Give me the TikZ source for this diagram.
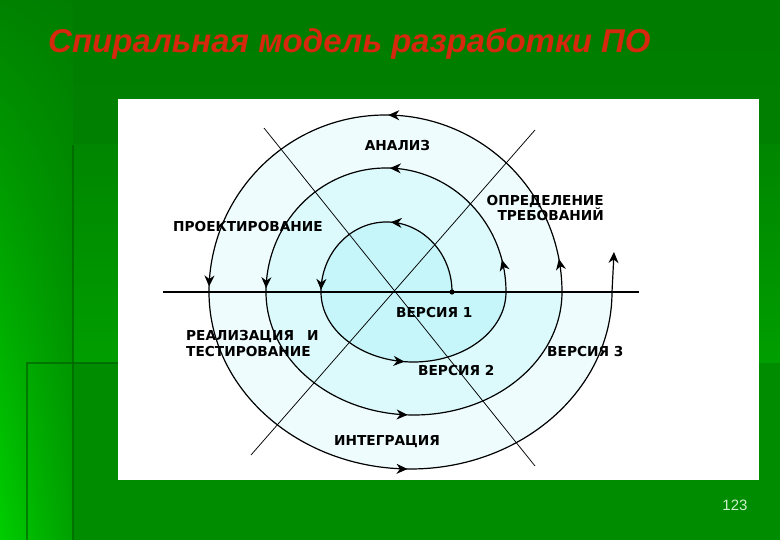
\documentclass[tikz,border=0pt]{standalone}
\usepackage{fontspec}
\setmainfont{DejaVu Sans}
\newfontfamily\lblfont{DejaVu Sans}
\newfontfamily\titlefont{Liberation Sans}
\usetikzlibrary{arrows.meta,decorations.markings,shadings}
\definecolor{gtop}{RGB}{0,124,0}
\definecolor{gbot}{RGB}{0,140,0}
\definecolor{gstripUL}{RGB}{0,130,0}
\definecolor{gstripUR}{RGB}{0,126,0}
\definecolor{gstripLL}{RGB}{0,205,0}
\definecolor{gstripLR}{RGB}{0,160,0}
\definecolor{gbandtop}{RGB}{0,134,0}
\definecolor{gbandbot}{RGB}{0,158,0}
\definecolor{glow}{RGB}{0,140,0}
\definecolor{gedge}{RGB}{0,95,0}
\definecolor{titlered}{RGB}{214,40,12}
\definecolor{pagenum}{RGB}{205,240,205}
\definecolor{fillA}{RGB}{198,245,250}
\definecolor{fillB}{RGB}{220,249,251}
\definecolor{fillC}{RGB}{239,252,253}
\tikzset{
  lbl/.style={font=\lblfont\bfseries\fontsize{13.7}{16}\selectfont, inner sep=0pt, text=black},
  spiralline/.style={line width=1.2pt, black},
  crossline/.style={line width=0.75pt, black},
  axisline/.style={line width=2.4pt, black},
  edgeline/.style={gedge, line width=1.6pt, opacity=0.65},
  arrowmarks/.style={postaction={decorate}, decoration={markings, #1}},
}
\def\tipspec{Stealth[length=11pt,width=10pt,inset=3.5pt]}
\begin{document}
\begin{tikzpicture}[x=1pt,y=-1pt]
\useasboundingbox (0,0) rectangle (780,540);
% background
\shade[top color=gtop, bottom color=gbot] (0,0) rectangle (780,540);
\shade[upper left=gstripUL, upper right=gstripUR, lower left=gstripLL, lower right=gstripLR] (0,0) rectangle (73,540);
\shade[top color=gbandtop, bottom color=gbandbot] (73,145) rectangle (780,363);
\fill[glow] (73,363) rectangle (780,540);
\draw[edgeline] (73,145) -- (73,540);
\draw[edgeline] (27,540) -- (27,363) -- (118,363);
% white panel
\fill[white] (118,99) rectangle (759,480);
% title and page number
\node[font=\titlefont\bfseries\itshape\fontsize{33}{38}\selectfont, text=titlered, anchor=base west, inner sep=0pt] (title) at (48,53) {Спиральная модель разработки ПО};
\node[font=\titlefont\fontsize{15}{18}\selectfont, text=pagenum, anchor=base, inner sep=0pt] (page) at (735,510) {123};
% region fills
\fill[fillC] (562,292) arc[start angle=0,end angle=180,x radius=176.5pt,y radius=177pt]
  arc[start angle=180,end angle=360,x radius=201.5pt,y radius=177pt] -- cycle;
\fill[fillB] (506,292) arc[start angle=0,end angle=180,x radius=120pt,y radius=124pt]
  arc[start angle=180,end angle=360,x radius=148pt,y radius=123pt] -- cycle;
\fill[fillA] (452,292) arc[start angle=0,end angle=180,x radius=65.5pt,y radius=70pt]
  arc[start angle=180,end angle=360,x radius=92.5pt,y radius=70pt] -- cycle;
% key points
\coordinate (s0) at (452,292);
\coordinate (s1) at (321,292);
\coordinate (s2) at (506,292);
\coordinate (s3) at (266,292);
\coordinate (s4) at (562,292);
\coordinate (s5) at (209,292);
\coordinate (s6) at (612,292);
\coordinate (s7) at (614,252);
% spiral
\draw[spiralline, arrowmarks={mark=at position 0.48 with {\arrow{\tipspec}}, mark=at position 0.99 with {\arrow{\tipspec}}}]
  (s0) arc[start angle=0,end angle=180,x radius=65.5pt,y radius=70pt];
\draw[spiralline, arrowmarks={mark=at position 0.465 with {\arrow{\tipspec}}}]
  (s1) arc[start angle=180,end angle=360,x radius=92.5pt,y radius=70pt];
\draw[spiralline, arrowmarks={mark=at position 0.085 with {\arrow{\tipspec}}, mark=at position 0.49 with {\arrow{\tipspec}}, mark=at position 0.99 with {\arrow{\tipspec}}}]
  (s2) arc[start angle=0,end angle=180,x radius=120pt,y radius=124pt];
\draw[spiralline, arrowmarks={mark=at position 0.485 with {\arrow{\tipspec}}}]
  (s3) arc[start angle=180,end angle=360,x radius=148pt,y radius=123pt];
\draw[spiralline, arrowmarks={mark=at position 0.06 with {\arrow{\tipspec}}, mark=at position 0.495 with {\arrow{\tipspec}}, mark=at position 0.99 with {\arrow{\tipspec}}}]
  (s4) arc[start angle=0,end angle=180,x radius=176.5pt,y radius=177pt];
\draw[spiralline, arrowmarks={mark=at position 0.495 with {\arrow{\tipspec}}}]
  (s5) arc[start angle=180,end angle=360,x radius=201.5pt,y radius=177pt];
\draw[spiralline, -{\tipspec}] (s6) .. controls (613,275) .. (s7);
% axis and cross lines
\coordinate (axL) at (163,292);
\coordinate (axR) at (639,292);
\draw[axisline] (axL) -- (axR);
\coordinate (dA1) at (264,128);
\coordinate (dA2) at (535,466);
\coordinate (dB1) at (535,130);
\coordinate (dB2) at (251,455);
\draw[crossline] (dA1) -- (dA2);
\draw[crossline] (dB1) -- (dB2);
\fill (s0) circle[radius=2.6pt];
% labels
\node[lbl, anchor=base] (analiz) at (397.5,151) {АНАЛИЗ};
\node[lbl, anchor=base east] (opr1) at (604,206) {ОПРЕДЕЛЕНИЕ};
\node[lbl, anchor=base east] (opr2) at (604,221) {ТРЕБОВАНИЙ};
\node[lbl, anchor=base west] (proekt) at (173,232) {ПРОЕКТИРОВАНИЕ};
\node[lbl, anchor=base west] (real1) at (186,341) {РЕАЛИЗАЦИЯ\hspace{0.6em} И};
\node[lbl, anchor=base west] (real2) at (186,357) {ТЕСТИРОВАНИЕ};
\node[lbl, anchor=base west] (v1) at (396,318) {ВЕРСИЯ 1};
\node[lbl, anchor=base west] (v2) at (418,376) {ВЕРСИЯ 2};
\node[lbl, anchor=base west] (v3) at (547,356) {ВЕРСИЯ 3};
\node[lbl, anchor=base west] (integr) at (334,446) {ИНТЕГРАЦИЯ};
\end{tikzpicture}
\end{document}
